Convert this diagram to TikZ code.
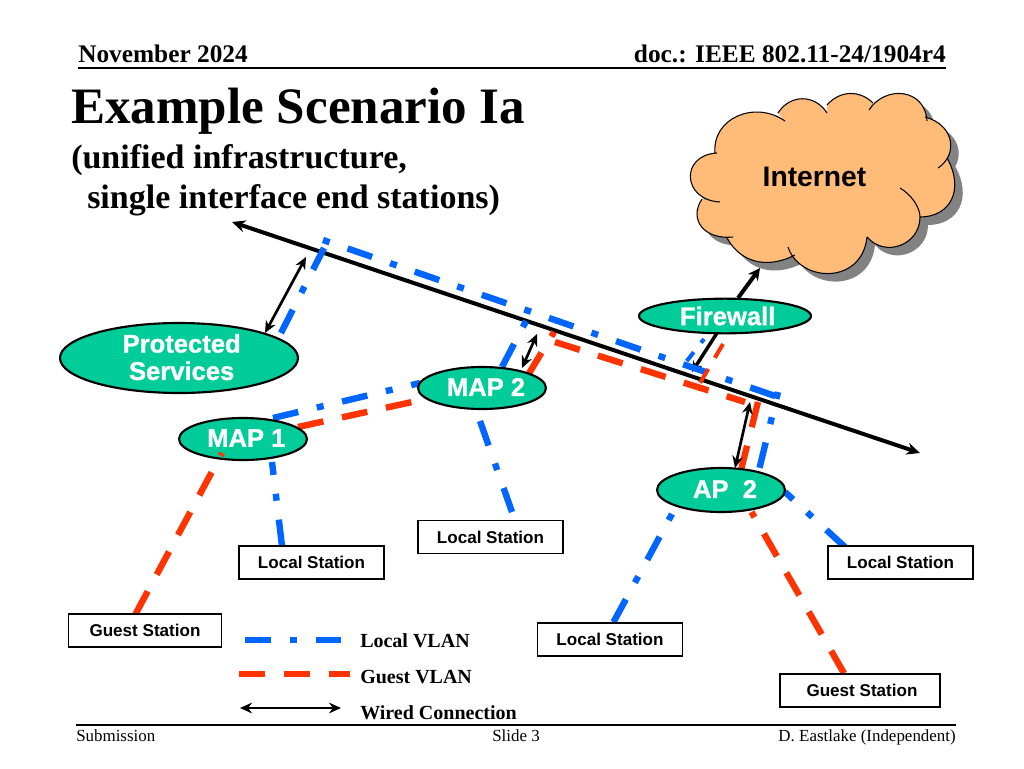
\documentclass[tikz,border=0pt]{standalone}
\usepackage{fontspec}
\setmainfont{Liberation Serif}
\newfontfamily\lsans{Liberation Sans}
\newfontfamily\lsansfat[BoldFeatures={FakeBold=1.0}]{Liberation Sans}
\usetikzlibrary{shapes.geometric,arrows.meta}
\definecolor{vgreen}{RGB}{0,204,153}
\definecolor{vblue}{RGB}{0,102,255}
\definecolor{vred}{RGB}{255,51,0}
\definecolor{vcloud}{RGB}{255,187,120}
\definecolor{vshadow}{RGB}{130,130,130}
\newcommand{\cloudfill}[1]{\path[#1] (715,153) .. controls (712,118) and (755,100) .. (785,121) -- (778,113) .. controls (790,94) and (815,94) .. (827,113) -- (827,105) .. controls (840,90) and (860,90) .. (873,103) -- (869,110) .. controls (885,85) and (925,88) .. (927,121) -- (925,117) .. controls (955,125) and (958,155) .. (938,168) -- (947,158) .. controls (965,190) and (950,217) .. (920,217) .. controls (920,245) and (885,258) .. (867,237) .. controls (862,285) and (800,283) .. (788,247) -- (795,255) .. controls (770,268) and (742,265) .. (727,238) -- (733,237) .. controls (705,240) and (688,220) .. (702,199) -- (720,202) .. controls (682,200) and (680,155) .. (717,153) -- cycle;}
\tikzset{
  x=0.75pt,y=-0.75pt,
  ell/.style={ellipse,draw=black,line width=1.6pt,fill=vgreen,inner sep=0pt,text=white,font=\lsansfat\bfseries\fontsize{19.2}{20.5}\selectfont,align=center},
  stn/.style={rectangle,draw=black,line width=1.1pt,fill=white,inner sep=0pt,minimum width=109pt,minimum height=25pt,font=\lsans\bfseries\fontsize{12.8}{15}\selectfont},
  vloc/.style={draw=vblue,line width=4.8pt,dash pattern=on 19.5pt off 14.25pt on 5.25pt off 14.25pt},
  vgue/.style={draw=vred,line width=4.8pt,dash pattern=on 19.5pt off 14.25pt},
  wire/.style={draw=black,line width=2pt,{Stealth[length=9pt,width=8pt]}-{Stealth[length=9pt,width=8pt]}},
  hdr/.style={anchor=base west,inner sep=0pt,font=\bfseries\fontsize{19}{22}\selectfont},
  ftr/.style={anchor=base west,inner sep=0pt,font=\fontsize{12.7}{15}\selectfont},
  leg/.style={anchor=base west,inner sep=0pt,font=\bfseries\fontsize{15}{18}\selectfont},
  lobe/.style={draw=black,line width=0.8pt},
  subt/.style={anchor=base west,inner sep=0pt,font=\bfseries\fontsize{25.5}{30}\selectfont},
}
\begin{document}
\begin{tikzpicture}
\useasboundingbox (0,0) rectangle (1024,768);
% cloud
\cloudfill{fill=vshadow,shift={(8,8)}}
\cloudfill{fill=vcloud}
\draw[lobe] (715,153) .. controls (712,118) and (755,100) .. (785,121);
\draw[lobe] (778,113) .. controls (790,94) and (815,94) .. (827,113);
\draw[lobe] (827,105) .. controls (840,90) and (860,90) .. (873,103);
\draw[lobe] (869,110) .. controls (885,85) and (925,88) .. (927,121);
\draw[lobe] (925,117) .. controls (955,125) and (958,155) .. (938,168);
\draw[lobe] (947,158) .. controls (965,190) and (950,217) .. (920,217);
\draw[lobe] (900,188) .. controls (912,195) and (920,208) .. (920,217) .. controls (920,245) and (885,258) .. (867,237);
\draw[lobe] (867,237) .. controls (862,285) and (800,283) .. (788,247);
\draw[lobe] (795,255) .. controls (770,268) and (742,265) .. (727,238);
\draw[lobe] (733,237) .. controls (705,240) and (688,220) .. (702,199);
\draw[lobe] (720,202) .. controls (682,200) and (680,155) .. (717,153);
\node[inner sep=0pt,font=\lsans\bfseries\fontsize{21.2}{25}\selectfont] (inet) at (814.5,177) {Internet};
% header / footer
\node[hdr] (hd1) at (78,62) {November 2024};
\node[hdr,anchor=base east] (hd2) at (946,62) {doc.: IEEE 802.11-24/1904r4};
\coordinate (hl) at (78,68); \coordinate (hr) at (946,68);
\draw[line width=0.9pt] (hl) -- (hr);
\coordinate (fl) at (76,725); \coordinate (fr) at (956,725);
\draw[line width=0.9pt] (fl) -- (fr);
\node[ftr] (f1) at (76,741) {Submission};
\node[ftr,anchor=base] (f2) at (516,741) {Slide 3};
\node[ftr,anchor=base east] (f3) at (956,741) {D. Eastlake (Independent)};
\node[anchor=base west,inner sep=0pt,font=\bfseries\fontsize{38.3}{44}\selectfont] (t1) at (71,123) {Example Scenario Ia};
\node[subt] (t2) at (71,168) {(unified infrastructure,};
\node[subt] (t3) at (87,208) {single interface end stations)};
% backbone
\coordinate (bbl) at (232,222); \coordinate (bbr) at (920,453);
\draw[line width=3pt,{Stealth[length=10pt,width=9pt]}-{Stealth[length=10pt,width=9pt]}] (bbl) -- (bbr);
% firewall link under the VLAN lines
\coordinate (wfw) at (692,372);
\draw[line width=2.6pt,-{Stealth[length=8pt,width=8pt]}] (717,333) -- (wfw);
% VLAN lines
\coordinate (lps) at (281,333); \coordinate (ltop) at (324,248);
\coordinate (lc1) at (323,240); \coordinate (lc2) at (778,397);
\coordinate (lc3) at (778,392); \coordinate (lap) at (759,470);
\draw[vloc] (lps) -- (ltop);
\draw[vloc,dash phase=33.75pt] (lc1) -- (lc2);
\draw[vloc,dash phase=14.25pt] (lc3) -- (lap);
\coordinate (lbm) at (502,367); \coordinate (lm1) at (526,321);
\draw[vloc] (lbm) -- (lm1);
\coordinate (lf1) at (704,339); \coordinate (lf2) at (686,362);
\draw[vloc,line width=3pt,dash pattern=on 3.5pt off 9pt on 8.5pt off 9pt] (lf1) -- (lf2);
\coordinate (m1a) at (273,418); \coordinate (m2a) at (420,383);
\draw[vloc] (m1a) -- (m2a);
\coordinate (m1b) at (272,462); \coordinate (ls1t) at (282,546);
\draw[vloc,dash phase=9.75pt] (m1b) -- (ls1t);
\coordinate (m2b) at (480,421); \coordinate (ls2t) at (512,512);
\draw[vloc] (m2b) -- (ls2t);
\coordinate (apa) at (785,492); \coordinate (ls3t) at (845,547);
\draw[vloc,dash phase=11.25pt] (apa) -- (ls3t);
\coordinate (apb) at (672,514); \coordinate (ls4t) at (613,623);
\draw[vloc,dash phase=33.75pt] (apb) -- (ls4t);
\coordinate (gm2) at (528,375); \coordinate (gtk) at (554,332);
\draw[vgue] (gm2) -- (gtk);
\coordinate (gc1) at (555,342); \coordinate (gc2) at (745,402);
\draw[vgue] (gc1) -- (gc2);
\coordinate (gc3) at (758,402); \coordinate (gap) at (741,470);
\draw[vgue] (gc3) -- (gap);
\coordinate (gb1) at (723,344); \coordinate (gb2) at (700,383);
\draw[vgue,line width=3pt,dash pattern=on 12pt off 9.75pt] (gb1) -- (gb2);
\coordinate (gm1a) at (298,427); \coordinate (gm2a) at (412,402);
\draw[vgue] (gm1a) -- (gm2a);
\coordinate (gapb) at (751.5,512); \coordinate (gs2t) at (845,675);
\draw[vgue,dash phase=15pt] (gapb) -- (gs2t);
% ellipses
\node[ell,minimum width=178.5pt,minimum height=52.5pt] (ps) at (179,358) {\raisebox{1.5pt}{\hspace*{4pt}Protected}\\[0pt]\raisebox{1.5pt}{\hspace*{4pt}Services}};
\node[ell,minimum width=96pt,minimum height=31.5pt] (map1) at (243,439) {\raisebox{1.5pt}{\hspace*{5pt}MAP 1}};
\node[ell,minimum width=96pt,minimum height=31.5pt] (map2) at (482,388) {\raisebox{1.5pt}{\hspace*{6pt}MAP 2}};
\node[ell,minimum width=129pt,minimum height=26pt] (fw) at (725,316) {\hspace*{4pt}Firewall};
\node[ell,minimum width=96pt,minimum height=33pt] (ap2) at (721,490) {\raisebox{1.5pt}{\hspace*{6pt}AP\ \ 2}};
% guest line that shows on MAP 1
\coordinate (gm1b) at (222,453); \coordinate (gs1t) at (135,615);
\draw[vgue,dash phase=17.25pt] (gm1b) -- (gs1t);
% stations
\node[stn] (ls1) at (311.5,562.5) {Local Station};
\node[stn] (ls2) at (490.5,537) {Local Station};
\node[stn] (ls3) at (900.5,562.5) {Local Station};
\node[stn] (ls4) at (610,639.5) {Local Station};
\node[stn,minimum width=115pt] (gs1) at (145,630.5) {Guest Station};
\node[stn,minimum width=120pt] (gs2) at (860,690.5) {\hspace*{3pt}Guest Station};
% wires
\coordinate (wps) at (306,257); \coordinate (wm2) at (537,334); \coordinate (wa2) at (750,402);
\coordinate (wpsb) at (265,333); \coordinate (wm2b) at (522,368); \coordinate (wa2b) at (735,468);
\draw[wire] (wpsb) -- (wps);
\draw[wire] (wm2b) -- (wm2);
\draw[wire] (wa2b) -- (wa2);
\coordinate (fwt) at (738,298); \coordinate (cldb) at (760,268);
\draw[line width=3pt,-{Stealth[length=9pt,width=9pt]}] (fwt) -- (cldb);
% legend
\coordinate (a1) at (245,640); \coordinate (a2) at (341,640);
\draw[vloc] (a1) -- (a2);
\coordinate (b1) at (239,674); \coordinate (b2) at (350,674);
\draw[vgue] (b1) -- (b2);
\coordinate (c1) at (240,708); \coordinate (c2) at (341,708);
\draw[wire] (c1) -- (c2);
\node[leg] (l1) at (360,647) {Local VLAN};
\node[leg] (l2) at (360,683) {Guest VLAN};
\node[leg] (l3) at (360,719) {Wired Connection};
\end{tikzpicture}
\end{document}
